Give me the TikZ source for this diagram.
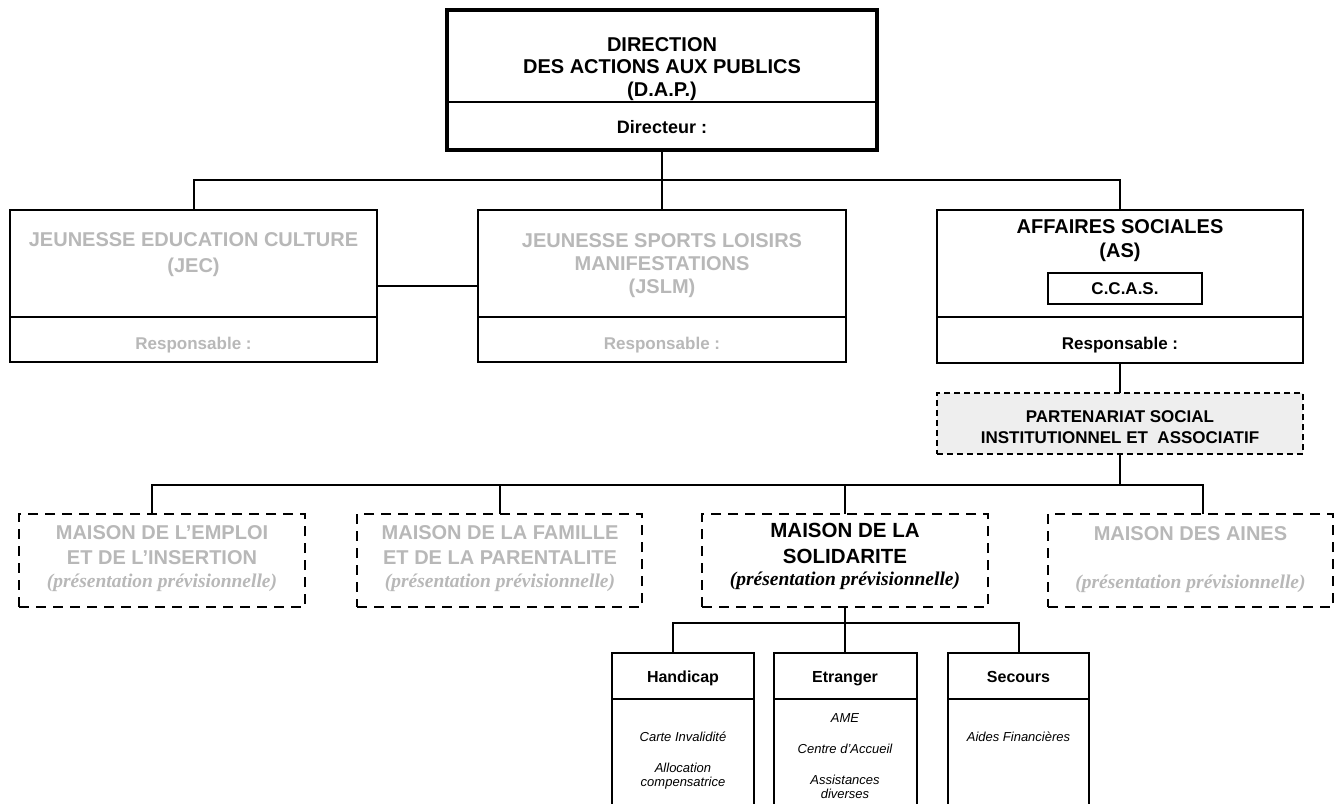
\documentclass[tikz,border=0pt]{standalone}
\usepackage{fontspec}
\setmainfont{Liberation Sans}
\newfontfamily\serifbi{Liberation Serif}
\usetikzlibrary{backgrounds,calc}
\definecolor{ghostgray}{HTML}{B8B8B8}
\definecolor{partfill}{HTML}{EEEEEE}
\tikzset{
  frame/.style={draw=black, line width=2pt, anchor=north west, inner sep=0pt, outer sep=0pt, fill=white},
  conn/.style={draw=black, line width=2pt},
  dbox/.style={draw=black, line width=2.8pt, dash pattern=on 10pt off 7pt, anchor=north west, inner sep=0pt, outer sep=0pt},
  pbox/.style={draw=black, line width=1.5pt, dash pattern=on 6pt off 4pt, fill=partfill, anchor=north west, inner sep=0pt, outer sep=0pt},
  ttl/.style={font=\bfseries\fontsize{20}{22.5}\selectfont, align=center, inner sep=0pt},
  ghost/.style={text=ghostgray},
  resp/.style={font=\bfseries\fontsize{17}{20}\selectfont, inner sep=0pt, anchor=base},
  subhead/.style={font=\bfseries\fontsize{16}{18}\selectfont, inner sep=0pt, anchor=base},
  item/.style={font=\itshape\fontsize{13}{14.5}\selectfont, align=center, inner sep=0pt},
  prev/.style={font=\serifbi\bfseries\itshape\fontsize{19.5}{22}\selectfont, inner sep=0pt, anchor=base},
}
\begin{document}
\begin{tikzpicture}[x=1pt,y=-1pt]
\useasboundingbox (0,0) rectangle (1341,803);
\clip (0,0) rectangle (1341,803);

% boxes
\node[frame, line width=4.5pt, minimum width=430pt, minimum height=140pt] (dap) at (447,10) {};
\node[frame, minimum width=367pt, minimum height=152pt] (jec) at (10,210) {};
\node[frame, minimum width=368pt, minimum height=152pt] (jslm) at (478,210) {};
\node[frame, minimum width=366pt, minimum height=153pt] (as) at (937,210) {};
\node[frame, font=\bfseries\fontsize{17}{20}\selectfont, minimum width=154pt, minimum height=31pt] (ccas) at (1048,273) {C.C.A.S.};
\node[pbox, minimum width=366pt, minimum height=61pt] (part) at (937,393) {};
\node[dbox, minimum width=286pt, minimum height=93pt] (mei) at (19,514) {};
\node[dbox, minimum width=285pt, minimum height=93pt] (mfp) at (357,514) {};
\node[dbox, minimum width=286pt, minimum height=93pt] (ms) at (702,514) {};
\node[dbox, minimum width=285pt, minimum height=93pt] (mda) at (1048,514) {};
\node[frame, minimum width=142pt, minimum height=200pt] (hand) at (612,653) {};
\node[frame, minimum width=143pt, minimum height=200pt] (etr) at (773.5,653) {};
\node[frame, minimum width=141pt, minimum height=200pt] (sec) at (948,653) {};

% dividers
\draw[conn] (dap.west |- 0,102) -- (dap.east |- 0,102);
\draw[conn] (jec.west |- 0,317) -- (jec.east |- 0,317);
\draw[conn] (jslm.west |- 0,317) -- (jslm.east |- 0,317);
\draw[conn] (as.west |- 0,317) -- (as.east |- 0,317);
\draw[conn] (hand.west |- 0,699) -- (hand.east |- 0,699);
\draw[conn] (etr.west |- 0,699) -- (etr.east |- 0,699);
\draw[conn] (sec.west |- 0,699) -- (sec.east |- 0,699);

% connectors
\begin{pgfonlayer}{background}
\fill[white] (0,0) rectangle (1341,803);
\draw[conn] (dap.south) -- (jslm.north);
\draw[conn] (jec.north) -- ++(0,-30) -| (as.north);
\draw[conn] (jec.east) -- (jslm.west);
\draw[conn] (as.south) -- (part.north);
\coordinate (pb) at (1120,485);
\draw[conn] (part.south) -- (pb);
\draw[conn] ([xshift=-10pt]mei.north) -- ++(0,-29) -| ([xshift=12pt]mda.north);
\draw[conn] (mfp.north) -- ++(0,-29);
\draw[conn] (ms.north) -- ++(0,-29);
\draw[conn] (ms.south) -- ++(0,16) coordinate (msb);
\draw[conn] ([xshift=-10pt]hand.north) -- ++(0,-30) -| (sec.north);
\draw[conn] (etr.north) -- (etr.north |- msb);
\end{pgfonlayer}

% texts
\node[ttl] (dapT) at (662,69) {DIRECTION\\DES ACTIONS AUX PUBLICS\\(D.A.P.)};
\node[resp, font=\bfseries\fontsize{18}{20}\selectfont] (dapD) at (662,133.5) {Directeur :};

\node[ttl, ghost, font=\bfseries\fontsize{20}{26}\selectfont] (jecT) at (193.5,255) {JEUNESSE EDUCATION CULTURE\\(JEC)};
\node[resp, ghost] (jecR) at (193.5,349) {Responsable :};

\node[ttl, ghost, font=\bfseries\fontsize{20}{23}\selectfont] (jslmT) at (662,266) {JEUNESSE SPORTS LOISIRS\\MANIFESTATIONS\\(JSLM)};
\node[resp, ghost] (jslmR) at (662,349) {Responsable :};

\node[ttl, font=\bfseries\fontsize{20}{24}\selectfont] (asT) at (1120,241) {AFFAIRES SOCIALES\\(AS)};
\node[resp] (asR) at (1120,349) {Responsable :};

\node[ttl, font=\bfseries\fontsize{17}{21}\selectfont] (partT) at (1120,427.5) {PARTENARIAT SOCIAL\\INSTITUTIONNEL ET\ \ ASSOCIATIF};

\node[ttl, ghost, font=\bfseries\fontsize{20}{25}\selectfont] (meiT) at (162,545.5) {MAISON DE L’EMPLOI\\ET DE L’INSERTION};
\node[prev, ghost] (meiP) at (162,587) {(présentation prévisionnelle)};

\node[ttl, ghost, font=\bfseries\fontsize{20}{25}\selectfont] (mfpT) at (500,545.5) {MAISON DE LA FAMILLE\\ET DE LA PARENTALITE};
\node[prev, ghost] (mfpP) at (500,587) {(présentation prévisionnelle)};

\node[ttl, font=\bfseries\fontsize{20.5}{26}\selectfont] (msT) at (845,543) {MAISON DE LA\\SOLIDARITE};
\node[prev] (msP) at (845,585) {(présentation prévisionnelle)};

\node[ttl, ghost] (mdaT) at (1190.5,534) {MAISON DES AINES};
\node[prev, ghost] (mdaP) at (1190.5,588) {(présentation prévisionnelle)};

\node[subhead] (handH) at (683,682) {Handicap};
\node[subhead] (etrH) at (845,682) {Etranger};
\node[subhead] (secH) at (1018.5,682) {Secours};

\node[item] (handI) at (683,760.5) {Carte Invalidité\\[16.5pt]Allocation\\compensatrice};
\node[item] (etrI) at (845,756) {AME\\[16.5pt]Centre d’Accueil\\[16.5pt]Assistances\\diverses};
\node[item] (secI) at (1018.5,737) {Aides Financières};
\end{tikzpicture}
\end{document}
